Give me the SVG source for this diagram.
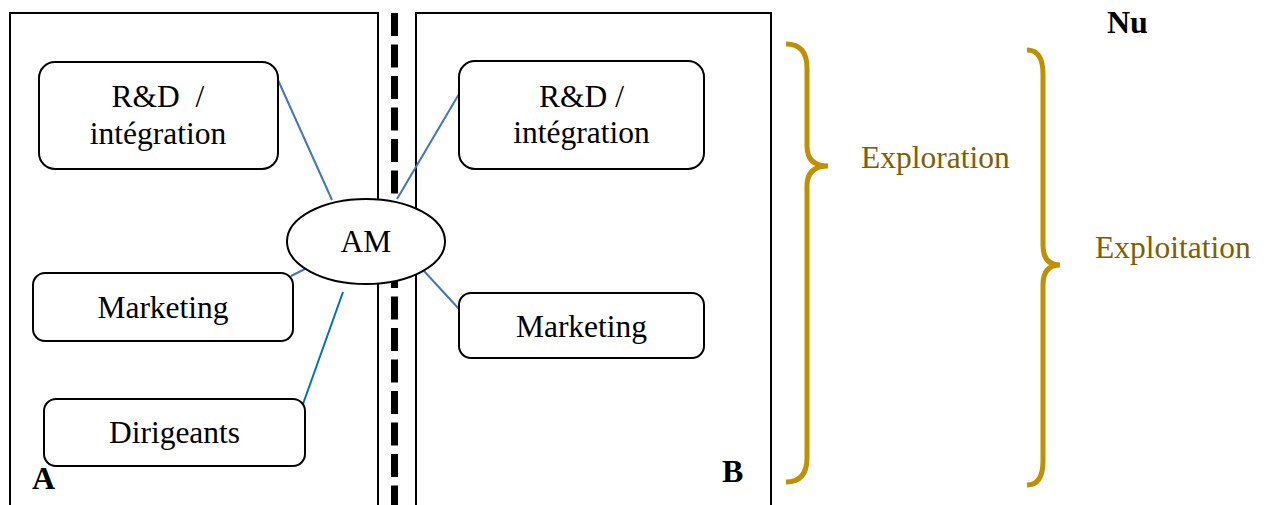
<svg xmlns="http://www.w3.org/2000/svg" width="1269" height="505" viewBox="0 0 1269 505">
<style>
.panel{fill:none;stroke:#000;stroke-width:2}
.box{fill:#fff;stroke:#000;stroke-width:2}
.t{font-family:"Liberation Serif","Times New Roman",serif;font-size:31.5px;fill:#000;text-anchor:middle}
.b{font-family:"Liberation Serif","Times New Roman",serif;font-size:32px;font-weight:bold;fill:#000}
.gold{font-family:"Liberation Serif","Times New Roman",serif;font-size:31.5px;fill:#7F6000}
.brace{fill:none;stroke:#BF9000;stroke-width:5;stroke-linecap:butt}
.c{stroke:#4472C4;stroke-width:2;fill:none}
.c2{stroke:#0070C0;stroke-width:2;fill:none}
</style>
<rect width="1269" height="505" fill="#fff"/>
<g id="panelA"><rect class="panel" x="10" y="13" width="368" height="500"/><text class="b" x="32" y="489">A</text></g>
<g id="panelB"><rect class="panel" x="416" y="13" width="355" height="500"/><text class="b" x="722" y="482">B</text></g>
<g id="divider"><line x1="394.5" y1="13" x2="394.5" y2="505" stroke="#000" stroke-width="7" stroke-dasharray="23 8.5"/></g>
<g id="connectors">
<line class="c" x1="278" y1="80" x2="332" y2="200"/>
<line class="c" x1="397" y1="199" x2="459" y2="94"/>
<line class="c" x1="291" y1="276" x2="305" y2="269"/>
<line class="c2" x1="343" y1="292" x2="303" y2="404"/>
<line class="c" x1="424" y1="271" x2="459" y2="309"/>
</g>
<g id="rdA"><rect class="box" x="39" y="62" width="239" height="107" rx="16"/><text class="t" x="158" y="107" xml:space="preserve">R&amp;D  /</text><text class="t" x="158" y="144">intégration</text></g>
<g id="mkA"><rect class="box" x="33" y="273" width="260" height="68" rx="12"/><text class="t" x="163" y="318">Marketing</text></g>
<g id="dirA"><rect class="box" x="44" y="399" width="261" height="67" rx="12"/><text class="t" x="174.5" y="443">Dirigeants</text></g>
<g id="am"><ellipse cx="366" cy="241.5" rx="79" ry="42.5" fill="#fff" stroke="#000" stroke-width="2"/><text class="t" x="366" y="252">AM</text></g>
<g id="rdB"><rect class="box" x="459" y="61" width="245" height="108" rx="16"/><text class="t" x="581.5" y="107">R&amp;D /</text><text class="t" x="581.5" y="143">intégration</text></g>
<g id="mkB"><rect class="box" x="459" y="293" width="245" height="65" rx="12"/><text class="t" x="581.5" y="337">Marketing</text></g>
<g id="exploration"><path class="brace" d="M786,44 Q807,44 807,68 L807,146 Q807,166 828,166 Q807,166 807,186 L807,458 Q807,482 786,482"/><text class="gold" x="861" y="168">Exploration</text></g>
<g id="exploitation"><path class="brace" d="M1027,50 Q1043,50 1043,74 L1043,245 Q1043,265 1060,265 Q1043,265 1043,285 L1043,461 Q1043,485 1027,485"/><text class="gold" x="1095" y="258">Exploitation</text></g>
<g id="nu"><text class="b" x="1107" y="33" font-size="30">Nu</text></g>
</svg>
